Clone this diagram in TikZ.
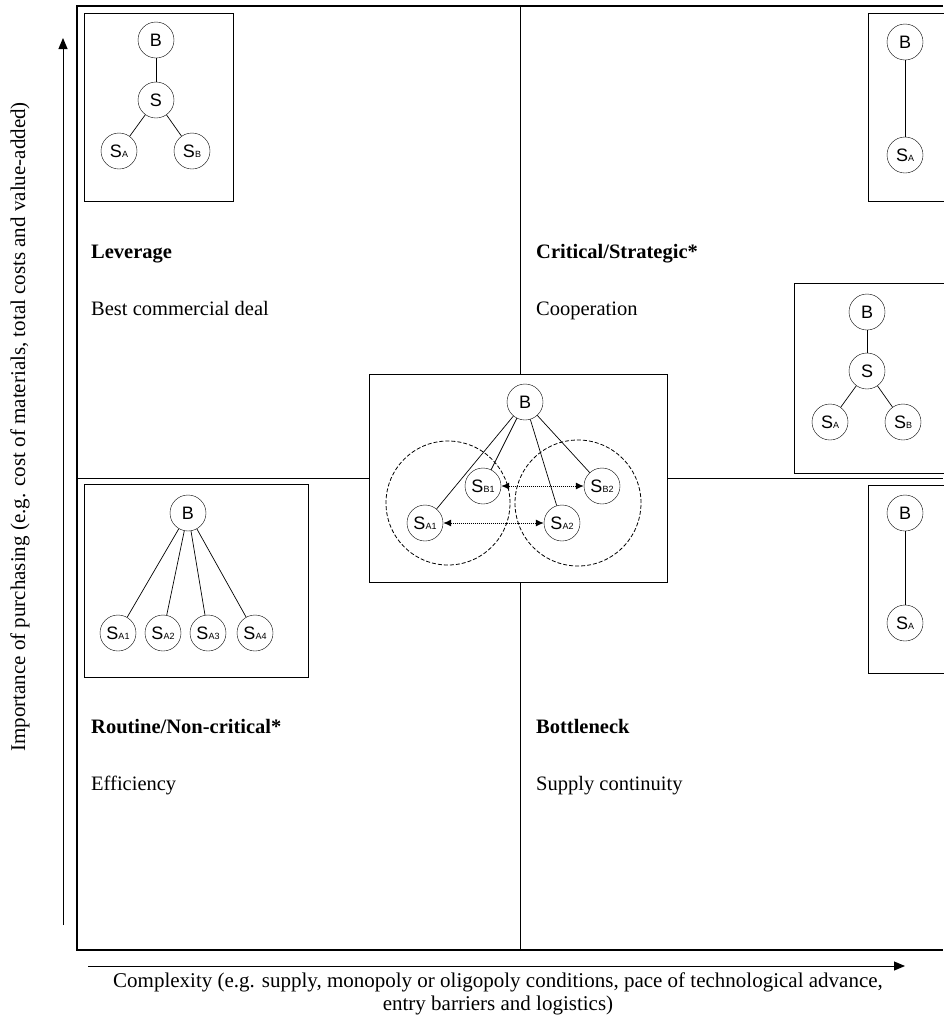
\documentclass[tikz,border=0pt]{standalone}
\usepackage{fontspec}
\setmainfont{Liberation Serif}
\setsansfont{Liberation Sans}
\usetikzlibrary{arrows.meta}
\newcommand\sbs[1]{{\fontsize{9}{9}\selectfont #1}}
\tikzset{
  nd/.style={circle,draw,inner sep=0pt,minimum size=36pt,font=\sffamily\fontsize{18}{18}\selectfont,fill=white},
  box/.style={draw,fill=white,line width=0.9pt},
  frame/.style={line width=1.2pt},
  con/.style={line width=0.7pt},
  dbl/.style={densely dotted,line width=1pt,{Latex[length=8pt,width=7pt]}-{Latex[length=8pt,width=7pt]}},
  dcirc/.style={dash pattern=on 4pt off 2pt,line width=0.8pt},
  head/.style={anchor=base west,inner sep=0pt,font=\bfseries\fontsize{20.5}{20.5}\selectfont},
  sub/.style={anchor=base west,inner sep=0pt,font=\fontsize{20.5}{20.5}\selectfont},
  axlab/.style={font=\fontsize{21}{23}\selectfont,align=center,inner sep=0pt},
  axarrow/.style={line width=1pt,-{Triangle[length=11pt,width=9pt]}}
}
\begin{document}
\begin{tikzpicture}[x=1pt,y=-1pt]
\useasboundingbox (0,0) rectangle (943,1018);
% frame
\coordinate (tl) at (77,6);
\coordinate (tr) at (943,6);
\coordinate (bl) at (77,950);
\coordinate (br) at (943,950);
\coordinate (vt) at (520,6);
\coordinate (vb) at (520,950);
\coordinate (hl) at (77,478);
\coordinate (hr) at (943,478);
\draw[frame] (tr) -- (tl) -- (bl) -- (br);
\draw[con] (vt) -- (vb);
\draw[con] (hl) -- (hr);

% axes
\coordinate (ya) at (63,925);
\coordinate (yb) at (63,38);
\coordinate (xa) at (88,966);
\coordinate (xb) at (905,966);
\draw[axarrow] (ya) -- (yb);
\draw[axarrow] (xa) -- (xb);
\node[axlab,rotate=90] (ylab) at (20,427) {Importance of purchasing (e.g. cost of materials, total costs and value-added)};
\node[axlab] (xlab) at (498,994) {Complexity (e.g. supply, monopoly or oligopoly conditions, pace of technological advance,\\entry barriers and logistics)};

% quadrant texts
\node[head] (lev) at (91,258) {Leverage};
\node[sub] (levs) at (91,315) {Best commercial deal};
\node[head] (cri) at (536,258) {Critical/Strategic*};
\node[sub] (cris) at (536,315) {Cooperation};
\node[head] (rou) at (91,733) {Routine/Non-critical*};
\node[sub] (rous) at (91,790) {Efficiency};
\node[head] (bot) at (536,733) {Bottleneck};
\node[sub] (bots) at (536,790) {Supply continuity};

% top-left box
\draw[box] (84,13) rectangle (233,201);
\node[nd] (b1) at (156,40) {B};
\node[nd] (s1) at (156,100) {S};
\node[nd] (sa1) at (119,151) {S\sbs{A}};
\node[nd] (sb1) at (192,151) {S\sbs{B}};
\draw[con] (b1) -- (s1);
\draw[con] (s1) -- (sa1);
\draw[con] (s1) -- (sb1);

% top-right box
\draw[box] (950,13) -- (868,13) -- (868,201) -- (950,201);
\node[nd] (b2) at (905,42) {B};
\node[nd] (sa2) at (905,155) {S\sbs{A}};
\draw[con] (b2) -- (sa2);

% mid-right box
\draw[box] (950,283) -- (794,283) -- (794,473) -- (950,473);
\node[nd] (b3) at (867,312) {B};
\node[nd] (s3) at (867,371) {S};
\node[nd] (sa3) at (830,422) {S\sbs{A}};
\node[nd] (sb3) at (903,422) {S\sbs{B}};
\draw[con] (b3) -- (s3);
\draw[con] (s3) -- (sa3);
\draw[con] (s3) -- (sb3);

% bottom-right box
\draw[box] (950,485) -- (868,485) -- (868,673) -- (950,673);
\node[nd] (b4) at (905,513) {B};
\node[nd] (sa4) at (905,623) {S\sbs{A}};
\draw[con] (b4) -- (sa4);

% bottom-left box
\draw[box] (84,484) rectangle (308,677);
\node[nd] (b5) at (188,513) {B};
\node[nd] (a51) at (118,633) {S\sbs{A1}};
\node[nd] (a52) at (163,633) {S\sbs{A2}};
\node[nd] (a53) at (208,633) {S\sbs{A3}};
\node[nd] (a54) at (255,633) {S\sbs{A4}};
\draw[con] (b5) -- (a51);
\draw[con] (b5) -- (a52);
\draw[con] (b5) -- (a53);
\draw[con] (b5) -- (a54);

% center box
\draw[box] (369,374) rectangle (667,582);
\node[dcirc,circle,draw,minimum size=124pt,inner sep=0pt] (dl) at (448,503) {};
\node[dcirc,circle,draw,minimum size=126pt,inner sep=0pt] (dr) at (578,503) {};
\node[nd,fill=none] (bc) at (525,402) {B};
\node[nd,fill=none] (sb1c) at (483,486) {S\sbs{B1}};
\node[nd,fill=none] (sb2c) at (602,486) {S\sbs{B2}};
\node[nd,fill=none] (sa1c) at (425,523) {S\sbs{A1}};
\node[nd,fill=none] (sa2c) at (562,523) {S\sbs{A2}};
\draw[con] (bc) -- (sa1c);
\draw[con] (bc) -- (sb1c);
\draw[con] (bc) -- (sa2c);
\draw[con] (bc) -- (sb2c);
\draw[dbl] (sb1c) -- (sb2c);
\draw[dbl] (sa1c) -- (sa2c);
\end{tikzpicture}
\end{document}
